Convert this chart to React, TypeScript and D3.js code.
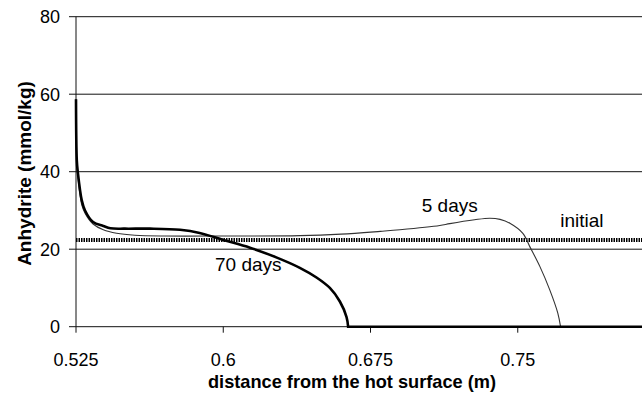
import * as d3 from "d3";

// x: distance from the hot surface (m), y: anhydrite (mmol/kg)
const xTicks = [0.525, 0.6, 0.675, 0.75];
const yTicks = [0, 20, 40, 60, 80];

const days70X = [0.525, 0.5254, 0.5259, 0.5279, 0.5296, 0.5337, 0.5389, 0.5425, 0.55, 0.5627, 0.578, 0.588, 0.6, 0.6136, 0.627, 0.639, 0.6475, 0.6543, 0.6594, 0.6628, 0.6636, 0.7, 0.75, 0.825];
const days70Y = [58.7, 43, 40, 32.7, 30, 27, 26.0, 25.4, 25.3, 25.3, 25.0, 24.2, 22.4, 20.4, 17.9, 15.2, 12.7, 10.0, 6.5, 2.5, 0, 0, 0, 0];

const days5X = [0.525, 0.5254, 0.5259, 0.5279, 0.5296, 0.5337, 0.5389, 0.5457, 0.555, 0.57, 0.6, 0.639, 0.66, 0.68, 0.69, 0.7103, 0.7154, 0.728, 0.7358, 0.741, 0.746, 0.7526, 0.7562, 0.7613, 0.7663, 0.7704, 0.7718, 0.8, 0.825];
const days5Y = [58.7, 42, 39, 31.5, 29.3, 26.5, 25.0, 24.1, 23.6, 23.4, 23.4, 23.5, 23.9, 24.6, 25.0, 26.1, 26.6, 27.6, 28.0, 27.7, 26.7, 24.1, 20.6, 15.5, 9.5, 3.5, 0, 0, 0];

const initialX = [0.525, 0.825];
const initialY = [22.4, 22.4];

const labelText = ["5 days", "initial", "70 days"];
const labelX = [0.7011, 0.7716, 0.5958];
const labelY = [29.6, 25.8, 14.45];

const font = "'Liberation Sans', Arial, sans-serif";

export default function App() {
  const width = 642;
  const height = 400;

  const x = d3.scaleLinear().domain([0.525, 0.825]).range([76, 665]);
  const y = d3.scaleLinear().domain([0, 80]).range([326.7, 16.7]);

  const smooth = d3
    .line<[number, number]>()
    .x((d) => x(d[0]))
    .y((d) => y(d[1]))
    .curve(d3.curveCatmullRom.alpha(0.5));

  const straight = d3
    .line<[number, number]>()
    .x((d) => x(d[0]))
    .y((d) => y(d[1]));

  const zip = (xs: number[], ys: number[]) =>
    xs.map((v, i) => [v, ys[i]] as [number, number]);

  // smooth the curve down to where it first reaches zero, then flat along the axis
  const curvePath = (xs: number[], ys: number[]) => {
    const pts = zip(xs, ys);
    const k = ys.indexOf(0);
    return (smooth(pts.slice(0, k + 1)) || "") + " " + (straight(pts.slice(k)) || "").replace(/^M/, "L");
  };

  return (
    <svg
      width={width}
      height={height}
      style={{ position: "absolute", left: 0, top: 0, background: "#fff" }}
      fontFamily={font}
    >
      {/* grid */}
      {yTicks.map((t) => (
        <line key={"g" + t} x1={x(0.525)} x2={width} y1={y(t)} y2={y(t)} stroke="#111" strokeWidth={1} />
      ))}
      {/* y axis */}
      <line x1={x(0.525)} x2={x(0.525)} y1={y(80)} y2={y(0)} stroke="#111" strokeWidth={1} />
      {yTicks.map((t) => (
        <g key={"y" + t}>
          <line x1={x(0.525) - 7} x2={x(0.525)} y1={y(t)} y2={y(t)} stroke="#111" />
          <text x={60} y={y(t)} dy="0.36em" textAnchor="end" fontSize={18}>
            {t}
          </text>
        </g>
      ))}
      {/* x axis */}
      {xTicks.map((t) => (
        <g key={"x" + t}>
          <line x1={x(t)} x2={x(t)} y1={y(0)} y2={y(0) + 6} stroke="#111" />
          <text x={x(t)} y={366} textAnchor="middle" fontSize={18}>
            {t}
          </text>
        </g>
      ))}

      {/* initial */}
      <path
        d={straight(zip(initialX, initialY)) || ""}
        fill="none"
        stroke="#000"
        strokeWidth={4}
        strokeDasharray="1.5,1"
      />
      {/* 5 days */}
      <path d={curvePath(days5X, days5Y)} fill="none" stroke="#333" strokeWidth={1.1} />
      {/* 70 days */}
      <path d={curvePath(days70X, days70Y)} fill="none" stroke="#000" strokeWidth={2.6} />

      {labelText.map((t, i) => (
        <text key={t} x={x(labelX[i])} y={y(labelY[i])} fontSize={19}>
          {t}
        </text>
      ))}

      <text x={352} y={388} textAnchor="middle" fontSize={18.2} fontWeight="bold">
        distance from the hot surface (m)
      </text>
      <text
        transform="translate(31,173.5) rotate(-90)"
        textAnchor="middle"
        fontSize={19}
        fontWeight="bold"
      >
        Anhydrite (mmol/kg)
      </text>
    </svg>
  );
}
